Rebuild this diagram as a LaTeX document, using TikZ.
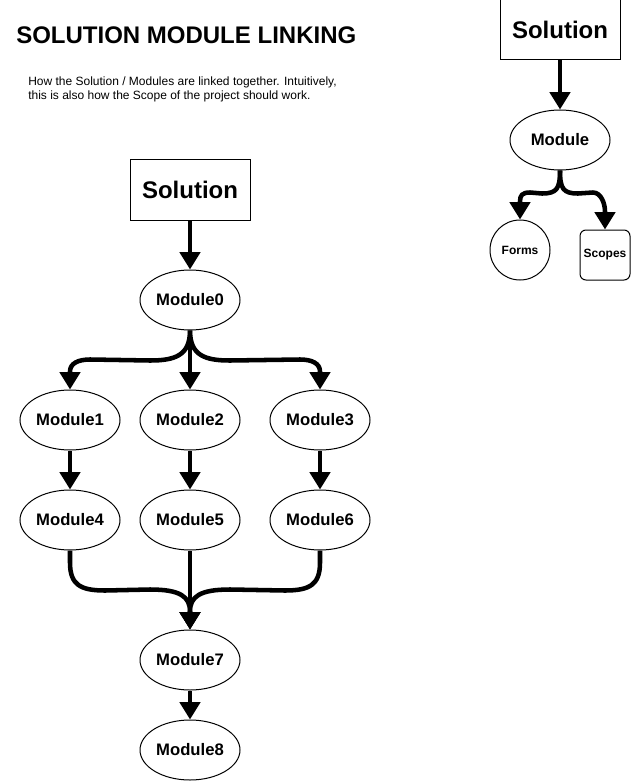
\documentclass[tikz,border=0pt]{standalone}
\usepackage{fontspec}
\setmainfont{Liberation Sans}
\usetikzlibrary{arrows.meta,shapes.geometric,calc}
\begin{document}
\begin{tikzpicture}[x=0.75pt,y=-0.75pt,
  conn/.style={line width=3.4pt,line join=round,-{Triangle[length=13pt,width=15pt]}},
  solbox/.style={draw,line width=0.75pt,rectangle,minimum width=90pt,minimum height=45pt,inner sep=0pt,font=\bfseries\fontsize{18}{20}\selectfont},
  modell/.style={draw,line width=0.75pt,ellipse,minimum width=75pt,minimum height=45pt,inner sep=0pt,font=\bfseries\fontsize{12.5}{14}\selectfont},
  formcirc/.style={draw,line width=0.75pt,circle,minimum size=45pt,inner sep=0pt,font=\bfseries\fontsize{9}{10}\selectfont},
  scopebox/.style={draw,line width=0.75pt,rectangle,rounded corners=4.5pt,minimum size=37.5pt,inner sep=0pt,font=\bfseries\fontsize{9}{10}\selectfont},
  titletext/.style={anchor=west,inner sep=0pt,font=\bfseries\fontsize{18}{20}\selectfont},
  desctext/.style={anchor=base west,inner sep=0pt,font=\fontsize{9}{10}\selectfont}
]
\useasboundingbox (0,0) rectangle (631,781);

\node[titletext] (title) at (16,35) {SOLUTION MODULE LINKING};
\node[desctext] (desc1) at (28,86) {How the Solution / Modules are linked together. Intuitively,};
\node[desctext] (desc2) at (28,99.3) {this is also how the Scope of the project should work.};

% main diagram
\node[solbox] (sol) at (190,190) {Solution};
\node[modell] (m0) at (190,300) {Module0};
\node[modell] (m1) at (70,420) {Module1};
\node[modell] (m2) at (190,420) {Module2};
\node[modell] (m3) at (320,420) {Module3};
\node[modell] (m4) at (70,520) {Module4};
\node[modell] (m5) at (190,520) {Module5};
\node[modell] (m6) at (320,520) {Module6};
\node[modell] (m7) at (190,660) {Module7};
\node[modell] (m8) at (190,750) {Module8};

% legend diagram
\node[solbox] (rsol) at (560,30) {Solution};
\node[modell] (rmod) at (560,140) {Module};
\node[formcirc] (forms) at (520,250) {Forms};
\node[scopebox] (scopes) at (605,255) {Scopes};

% connectors
\draw[conn] (sol) -- (m0);
\draw[conn] (m0.south) .. controls +(0,25) and +(25,0) .. ($(m0.south)+(-40,30)$) -- ($(m1.north)+(20,-30)$) .. controls +(-12,0) and +(0,-8) .. ($(m1.north)+(0,-18)$) -- (m1.north);
\draw[conn] (m0.south) .. controls +(0,25) and +(-25,0) .. ($(m0.south)+(40,30)$) -- ($(m3.north)+(-20,-30)$) .. controls +(12,0) and +(0,-8) .. ($(m3.north)+(0,-18)$) -- (m3.north);
\draw[conn] (m0) -- (m2);
\draw[conn] (m1) -- (m4);
\draw[conn] (m2) -- (m5);
\draw[conn] (m3) -- (m6);
\draw[conn] (m4.south) -- ($(m4.south)+(0,12)$) .. controls +(0,22) and +(-25,0) .. ($(m4.south)+(35,40)$) -- ($(m7.north)+(-40,-40)$) .. controls +(30,0) and +(0,-15) .. ($(m7.north)+(0,-18)$) -- (m7.north);
\draw[conn] (m6.south) -- ($(m6.south)+(0,12)$) .. controls +(0,22) and +(25,0) .. ($(m6.south)+(-35,40)$) -- ($(m7.north)+(40,-40)$) .. controls +(-30,0) and +(0,-15) .. ($(m7.north)+(0,-18)$) -- (m7.north);
\draw[conn] (m5) -- (m7);
\draw[conn] (m7) -- (m8);

\draw[conn] (rsol) -- (rmod);
\draw[conn] (rmod.south) .. controls +(0,18) and +(15,0) .. ($(rmod.south)+(-18,23)$) -- ($(forms.north)+(10,-27)$) .. controls +(-8,0) and +(0,-6) .. ($(forms.north)+(0,-18)$) -- (forms.north);
\draw[conn] (rmod.south) .. controls +(0,18) and +(-15,0) .. ($(rmod.south)+(18,23)$) -- ($(scopes.north)+(-12,-37)$) .. controls +(8,0) and +(0,-8) .. ($(scopes.north)+(0,-18)$) -- (scopes.north);
\end{tikzpicture}
\end{document}
